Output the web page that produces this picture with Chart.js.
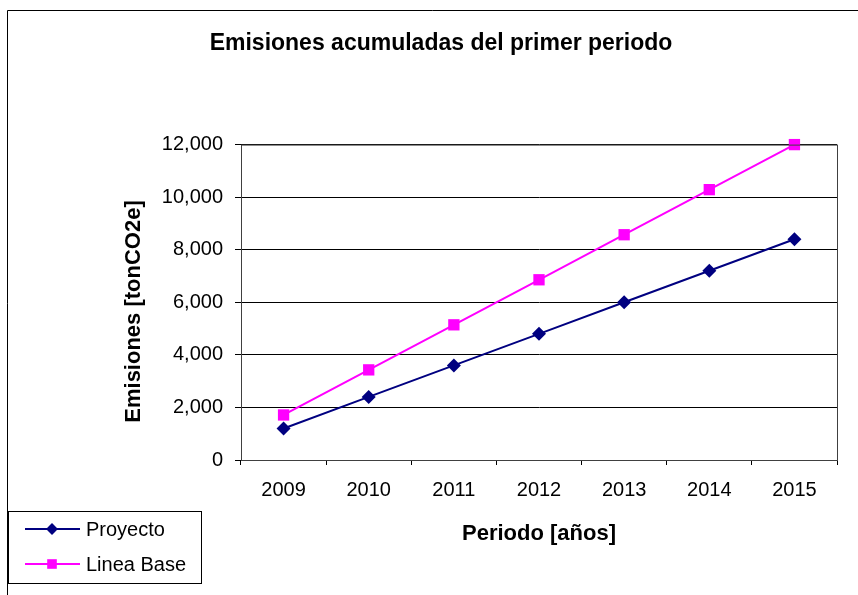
<!DOCTYPE html>
<html>
<head>
<meta charset="utf-8">
<script src="https://cdn.jsdelivr.net/npm/chart.js@4"></script>
<style>
  body { margin: 0; background: #fff; }
  #wrap { width: 858px; height: 595px; }
</style>
</head>
<body>
<div id="wrap"><canvas id="chart" width="858" height="595"></canvas></div>
<script>
const years = ['2009', '2010', '2011', '2012', '2013', '2014', '2015'];
const proyecto = [1200, 2400, 3600, 4800, 6000, 7200, 8400];
const lineaBase = [1714, 3429, 5143, 6857, 8571, 10286, 12000];
const yTicks = [0, 2000, 4000, 6000, 8000, 10000, 12000];

const FONT = "'Liberation Sans', Arial, sans-serif";

// outer frame, plot box right edge and the boxed legend (bottom left)
const framePlugin = {
    id: 'frame',
    afterDraw(chart) {
        const ctx = chart.ctx;
        const area = chart.chartArea;
        ctx.save();
        ctx.strokeStyle = '#000';
        ctx.lineWidth = 1;
        // outer border
        ctx.beginPath();
        ctx.moveTo(7.5, 600);
        ctx.lineTo(7.5, 10.5);
        ctx.lineTo(858, 10.5);
        ctx.stroke();
        // plot box
        ctx.strokeStyle = '#404040';
        ctx.strokeRect(area.left + 0.5, area.top + 0.5, area.right - area.left, area.bottom - area.top);

        // legend
        ctx.fillStyle = '#fff';
        ctx.fillRect(8, 511, 194, 73);
        ctx.strokeStyle = '#000';
        ctx.strokeRect(8.5, 511.5, 193, 72);
        ctx.font = '20px ' + FONT;
        ctx.textBaseline = 'middle';
        chart.data.datasets.forEach((ds, i) => {
            const y = 529 + i * 35;
            ctx.strokeStyle = ds.borderColor;
            ctx.lineWidth = 2;
            ctx.beginPath();
            ctx.moveTo(25, y);
            ctx.lineTo(80, y);
            ctx.stroke();
            ctx.fillStyle = ds.pointBackgroundColor;
            Chart.helpers.drawPoint(ctx, {
                pointStyle: ds.pointStyle,
                radius: ds.pointRadius * 0.85,
                rotation: 0,
                borderWidth: 0
            }, 52, y);
            ctx.fillStyle = '#000';
            ctx.fillText(ds.label, 86, y + 1);
        });
        ctx.restore();
    }
};

new Chart(document.getElementById('chart'), {
    type: 'line',
    data: {
        labels: years,
        datasets: [{
            label: 'Proyecto',
            data: proyecto,
            borderColor: '#000080',
            backgroundColor: '#000080',
            pointBackgroundColor: '#000080',
            pointBorderColor: '#000080',
            pointStyle: 'rectRot',
            pointRadius: 7,
            pointBorderWidth: 0,
            borderWidth: 2,
            tension: 0,
            clip: false
        }, {
            label: 'Linea Base',
            data: lineaBase,
            borderColor: '#ff00ff',
            backgroundColor: '#ff00ff',
            pointBackgroundColor: '#ff00ff',
            pointBorderColor: '#ff00ff',
            pointStyle: 'rect',
            pointRadius: 8,
            pointBorderWidth: 0,
            borderWidth: 2,
            tension: 0,
            clip: false
        }]
    },
    options: {
        responsive: false,
        animation: false,
        locale: 'en-US',
        layout: {
            padding: { left: 45, right: 21, top: 0, bottom: 0 }
        },
        plugins: {
            legend: { display: false },
            tooltip: { enabled: false },
            title: {
                display: true,
                text: 'Emisiones acumuladas del primer periodo',
                color: '#000',
                font: { family: FONT, size: 23, weight: 'bold' },
                padding: { top: 30, bottom: 87 }
            }
        },
        scales: {
            x: {
                offset: true,
                afterFit(scale) { scale.height = 135; },
                grid: {
                    display: true,
                    offset: true,
                    drawOnChartArea: false,
                    drawTicks: true,
                    tickLength: 5,
                    color: '#000',
                    lineWidth: 1
                },
                border: { display: true, color: '#000', width: 1 },
                ticks: {
                    color: '#000',
                    padding: 13,
                    maxRotation: 0,
                    minRotation: 0,
                    font: { family: FONT, size: 20 }
                },
                title: {
                    display: true,
                    text: 'Periodo [años]',
                    color: '#000',
                    font: { family: FONT, size: 22, weight: 'bold' },
                    padding: { top: 0, bottom: 48 }
                }
            },
            y: {
                min: 0,
                max: 12000,
                afterFit(scale) { scale.width = 196; },
                afterBuildTicks(scale) { scale.ticks = yTicks.map(v => ({ value: v })); },
                grid: {
                    display: true,
                    drawOnChartArea: true,
                    drawTicks: true,
                    tickLength: 6,
                    color: '#000',
                    lineWidth: 1
                },
                border: { display: true, color: '#000', width: 1 },
                ticks: {
                    color: '#000',
                    padding: 12,
                    font: { family: FONT, size: 20 }
                },
                title: {
                    display: true,
                    text: 'Emisiones [tonCO2e]   ',
                    color: '#000',
                    font: { family: FONT, size: 22, weight: 'bold' },
                    padding: { top: 76, bottom: 0 }
                }
            }
        }
    },
    plugins: [framePlugin]
});
</script>
</body>
</html>
